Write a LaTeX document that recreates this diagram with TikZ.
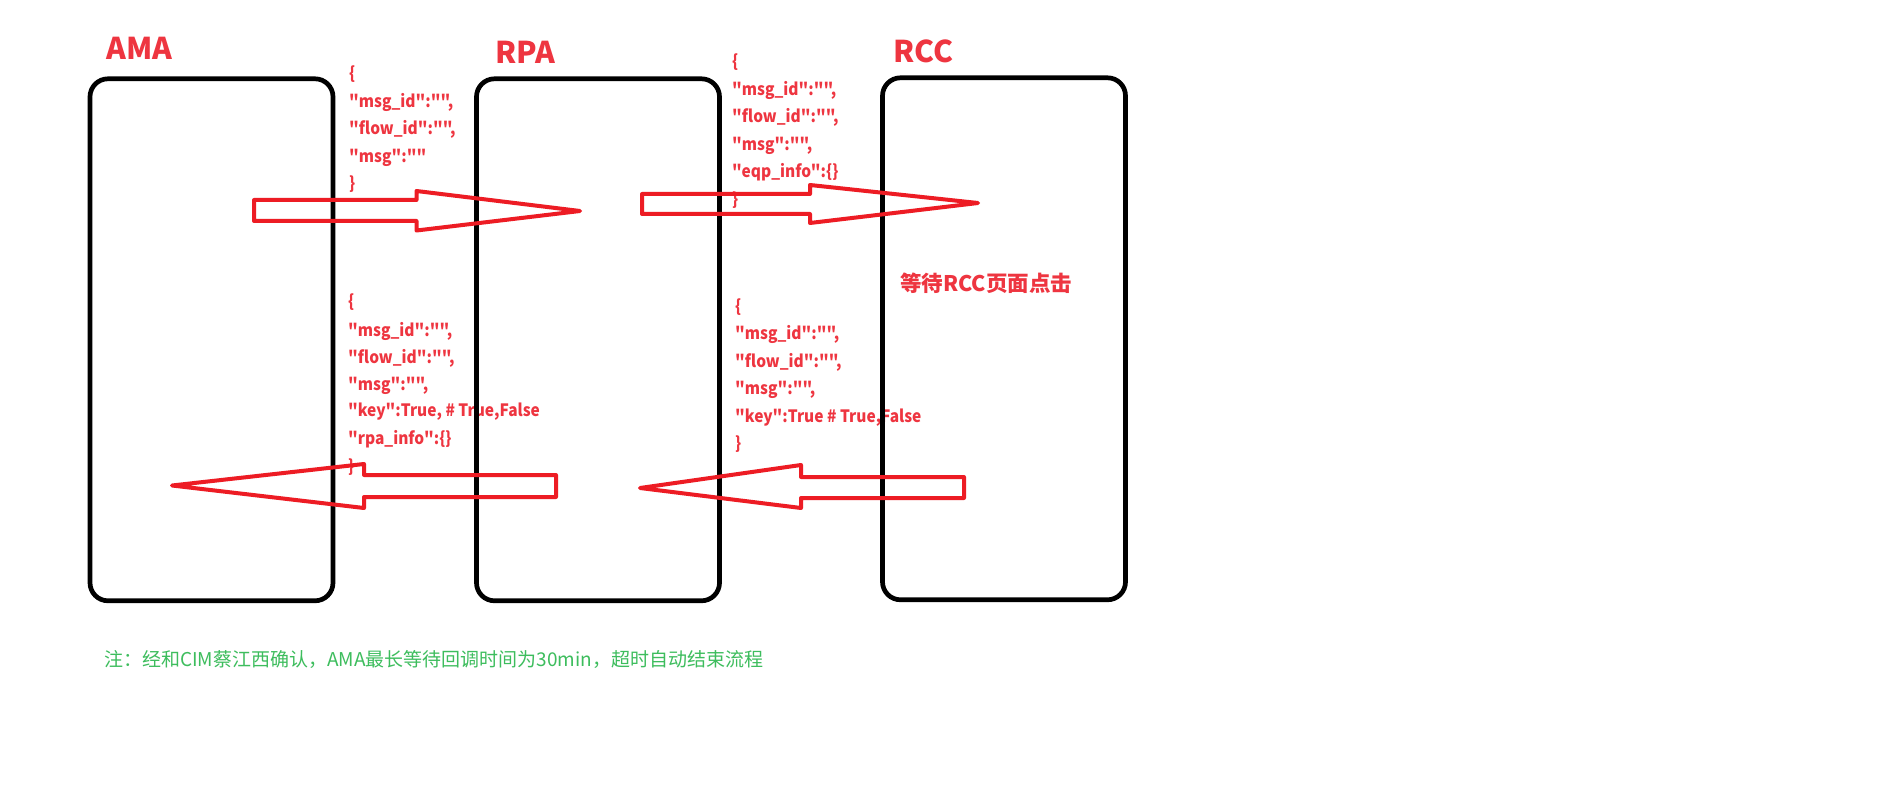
\documentclass[tikz,border=0pt]{standalone}
\usepackage{fontspec}
\setmainfont{Noto Sans CJK SC}[Ligatures=TeXOff]
\newfontfamily\jsonfont{Noto Sans CJK SC}[Ligatures=TeXOff, FakeStretch=0.91]
\definecolor{pred}{HTML}{ED1C24}
\definecolor{tred}{HTML}{EE3540}
\definecolor{tgreen}{HTML}{3DBD5D}
\tikzset{
  box/.style={draw=black, line width=4.7pt, rounded corners=18pt, minimum width=243pt, minimum height=522pt, inner sep=0pt},
  title/.style={text=tred, font=\bfseries\fontsize{30}{30}\selectfont, anchor=base west, inner sep=0pt},
  json/.style={text=tred, font=\jsonfont\bfseries\fontsize{17}{17}\selectfont, anchor=west, inner sep=0pt, text height=12pt, text depth=0pt},
  blockarrow/.style={draw=pred, line width=4pt, line join=round},
}
\begin{document}
\begin{tikzpicture}[x=1pt,y=-1pt]
\fill[white] (0,0) rectangle (1903,802);
\useasboundingbox (0,0) rectangle (1903,802);

% titles
\node[title] (tama) at (106,60) {AMA};
\node[title] (trpa) at (495,64) {RPA};
\node[title] (trcc) at (893,62.5) {RCC};

% JSON block 1
\node[json] (a1) at (349,73.5) {\{};
\node[json] (a2) at (349,101.5) {"msg\_id":"",};
\node[json] (a3) at (349,129) {"flow\_id":"",};
\node[json] (a4) at (349,157) {"msg":""};
\node[json] (a5) at (349,184) {\}};

% JSON block 2
\node[json] (b1) at (732,61.7) {\{};
\node[json] (b2) at (732,89.3) {"msg\_id":"",};
\node[json] (b3) at (732,116.7) {"flow\_id":"",};
\node[json] (b4) at (732,145) {"msg":"",};
\node[json] (b5) at (732,171.7) {"eqp\_info":\{\}};
\node[json] (b6) at (732,200) {\}};

% JSON block 3
\node[json] (c1) at (348,302) {\{};
\node[json] (c2) at (348,330) {"msg\_id":"",};
\node[json] (c3) at (348,357) {"flow\_id":"",};
\node[json] (c4) at (348,384) {"msg":"",};
\node[json] (c5) at (348,410.5) {"key":True, \# True,False};
\node[json] (c6) at (348,438) {"rpa\_info":\{\}};
\node[json] (c7) at (348,466) {\}};

% JSON block 4
\node[json] (d1) at (735,306.7) {\{};
\node[json] (d2) at (735,333.3) {"msg\_id":"",};
\node[json] (d3) at (735,361) {"flow\_id":"",};
\node[json] (d4) at (735,388) {"msg":"",};
\node[json] (d5) at (735,416) {"key":True \# True,False};
\node[json] (d6) at (735,443.3) {\}};

% waiting label
\node[text=tred, font=\bfseries\fontsize{21.5}{21.5}\selectfont, anchor=west, inner sep=0pt] (wait) at (900,283) {等待RCC页面点击};

% footnote
\node[text=tgreen, font=\fontsize{19}{19}\selectfont, anchor=west, inner sep=0pt] (note) at (104,659) {注：经和CIM蔡江西确认，AMA最长等待回调时间为30min，超时自动结束流程};

% boxes
\node[box] (ama) at (211.5,339.8) {};
\node[box] (rpa) at (598,339.8) {};
\node[box] (rcc) at (1004,338.8) {};

% block arrows
\draw[blockarrow] (254,200) -- (416.5,200) -- (416.5,191) -- (580,211) -- (416.5,230.5) -- (416.5,221) -- (254,221) -- cycle;
\draw[blockarrow] (642,194) -- (810,194) -- (810,185) -- (978,203) -- (810,223) -- (810,214) -- (642,214) -- cycle;
\draw[blockarrow] (556,475) -- (364,475) -- (364,464) -- (172,485.5) -- (364,508) -- (364,497) -- (556,497) -- cycle;
\draw[blockarrow] (964,477) -- (801,477) -- (801,465) -- (640,488) -- (801,508) -- (801,498) -- (964,498) -- cycle;
\end{tikzpicture}
\end{document}
